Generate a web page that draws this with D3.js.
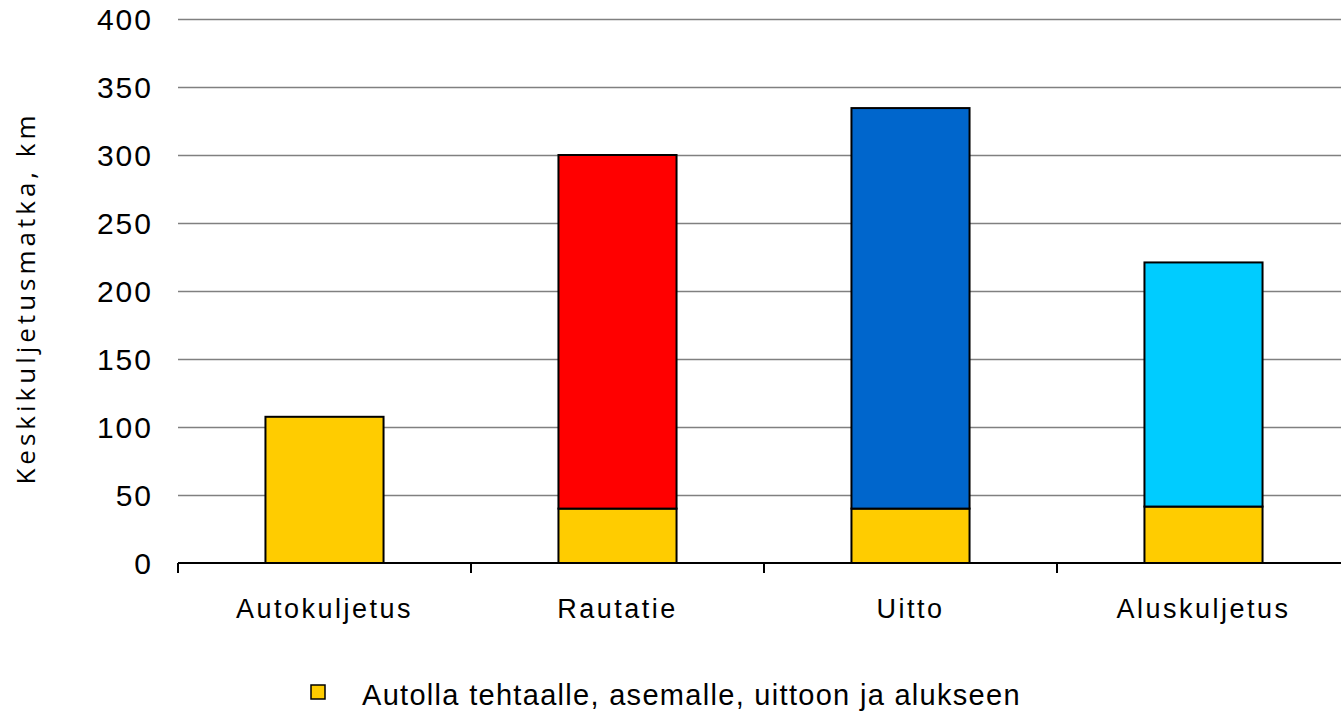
<!DOCTYPE html>
<html>
<head>
<meta charset="utf-8">
<script src="https://cdn.jsdelivr.net/npm/d3@7/dist/d3.min.js"></script>
<style>
  html, body { margin: 0; padding: 0; background: #fff; }
  svg { display: block; }
</style>
</head>
<body>
<svg id="chart" width="1341" height="714"></svg>
<script>
const categories = ["Autokuljetus", "Rautatie", "Uitto", "Aluskuljetus"];
const feederValues = [107.5, 40, 40, 41.5];      // Autolla tehtaalle, asemalle, uittoon ja alukseen
const mainValues = [0, 260, 294.5, 179.5];       // main transport leg
const yTicks = [0, 50, 100, 150, 200, 250, 300, 350, 400];
const legendLabel = "Autolla tehtaalle, asemalle, uittoon ja alukseen";
const yTitle = "Keskikuljetusmatka, km";

const feederColor = "#FFCC00";
const mainColors = ["#FFCC00", "#FF0000", "#0066CC", "#00CCFF"];

const svg = d3.select("#chart");
const plotLeft = 178, bandRight = 1350, plotRight = 1341, plotTop = 19, plotBottom = 563;

const x = d3.scaleBand().domain(categories).range([plotLeft, bandRight])
  .paddingInner(0.597).paddingOuter(0.2985);
const y = d3.scaleLinear().domain([0, 400]).range([plotBottom, plotTop]);

const rows = categories.map((c, i) => ({ cat: c, feeder: feederValues[i], main: mainValues[i] }));
const stack = d3.stack().keys(["feeder", "main"]);
const series = stack(rows);

// gridlines
svg.append("g").selectAll("line").data(yTicks.filter(d => d > 0)).join("line")
  .attr("x1", plotLeft).attr("x2", plotRight)
  .attr("y1", d => Math.round(y(d)) + 0.5).attr("y2", d => Math.round(y(d)) + 0.5)
  .attr("stroke", "#808080").attr("stroke-width", 1.5);

// y tick labels
svg.append("g").selectAll("text").data(yTicks).join("text")
  .attr("x", 153).attr("y", d => y(d))
  .attr("dy", "0.36em")
  .attr("text-anchor", "end")
  .style("font-family", "'Liberation Sans', Arial, sans-serif")
  .style("font-size", "30px")
  .style("letter-spacing", "2px")
  .attr("fill", "#000")
  .text(d => d);

// bars
const g = svg.append("g");
series.forEach((s, si) => {
  g.selectAll(null).data(s.filter(d => d[1] - d[0] > 0)).join("rect")
    .attr("x", d => x(d.data.cat))
    .attr("width", x.bandwidth())
    .attr("y", d => y(d[1]))
    .attr("height", d => y(d[0]) - y(d[1]))
    .attr("fill", d => si === 0 ? feederColor : mainColors[categories.indexOf(d.data.cat)])
    .attr("stroke", "#000").attr("stroke-width", 2);
});

// x axis line and ticks
svg.append("line").attr("x1", plotLeft).attr("x2", plotRight)
  .attr("y1", plotBottom).attr("y2", plotBottom)
  .attr("stroke", "#000").attr("stroke-width", 2);
const tickPos = d3.range(categories.length).map(i => plotLeft + i * x.step());
svg.append("g").selectAll("line").data(tickPos).join("line")
  .attr("x1", d => d).attr("x2", d => d)
  .attr("y1", plotBottom).attr("y2", plotBottom + 10)
  .attr("stroke", "#000").attr("stroke-width", 2);

// category labels
svg.append("g").selectAll("text").data(categories).join("text")
  .attr("x", d => x(d) + x.bandwidth() / 2)
  .attr("y", 618)
  .attr("text-anchor", "middle")
  .style("font-family", "'Liberation Sans', Arial, sans-serif")
  .style("font-size", "27px")
  .style("letter-spacing", "2.5px")
  .attr("fill", "#000")
  .text(d => d);

// y title
svg.append("text")
  .attr("transform", "translate(35,298) rotate(-90)")
  .attr("text-anchor", "middle")
  .style("font-family", "'Open Sans', sans-serif")
  .style("font-size", "26px")
  .style("letter-spacing", "4px")
  .attr("fill", "#000")
  .text(yTitle);

// legend
const lg = svg.append("g");
lg.append("rect").attr("x", 311).attr("y", 685).attr("width", 14).attr("height", 14)
  .attr("fill", feederColor).attr("stroke", "#000").attr("stroke-width", 1.5);
lg.append("text").attr("x", 362).attr("y", 705)
  .style("font-family", "'Liberation Sans', Arial, sans-serif")
  .style("font-size", "29px")
  .style("letter-spacing", "1.3px")
  .attr("fill", "#000")
  .text(legendLabel);
</script>
</body>
</html>
